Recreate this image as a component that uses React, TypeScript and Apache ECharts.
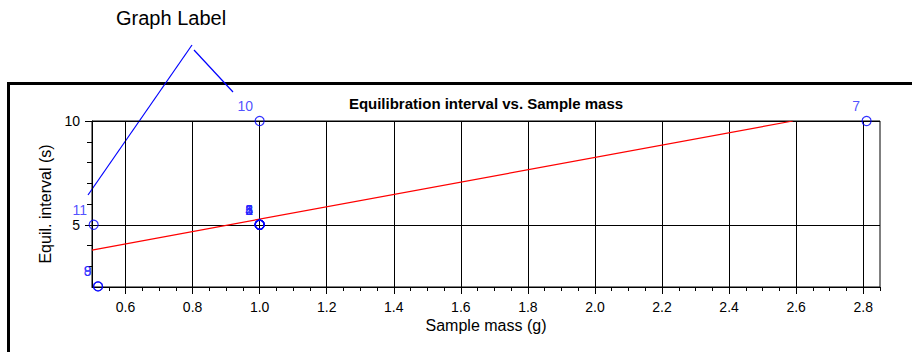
import React, { useEffect, useRef } from "react";
import * as echarts from "echarts";

const FONT = '"Liberation Sans", Arial, sans-serif';

// Sample points
const sampleIds = ["1", "2", "3", "4", "5", "6", "7", "8", "9", "10", "11"];
const sampleMass = [1.0, 1.0, 1.0, 1.0, 1.0, 1.0, 2.81, 0.518, 0.518, 1.0, 0.505];
const equilInterval = [5, 5, 5, 5, 5, 5, 10, 2.03, 2.03, 10, 5];

// Fit line
const fitMass = [0.5, 2.59];
const fitInterval = [3.78, 10];

// Axis ticks
const xMajorTicks = [0.6, 0.8, 1.0, 1.2, 1.4, 1.6, 1.8, 2.0, 2.2, 2.4, 2.6, 2.8];
const xMinorTicks = [
  0.55, 0.65, 0.7, 0.75, 0.85, 0.9, 0.95, 1.05, 1.1, 1.15, 1.25, 1.3, 1.35,
  1.45, 1.5, 1.55, 1.65, 1.7, 1.75, 1.85, 1.9, 1.95, 2.05, 2.1, 2.15, 2.25,
  2.3, 2.35, 2.45, 2.5, 2.55, 2.65, 2.7, 2.75, 2.85,
];
const yMajorTicks = [5, 10];
const yMinorTicks = [3, 4, 6, 7, 8, 9];

export default function App() {
  const ref = useRef<HTMLDivElement>(null);

  useEffect(() => {
    if (!ref.current) return;
    const chart = echarts.init(ref.current, undefined, { renderer: "svg" });

    const points = sampleIds.map((id, i) => ({
      value: [sampleMass[i], equilInterval[i]],
      name: id,
    }));

    const black = { color: "#000", width: 1 };

    chart.setOption({
      animation: false,
      backgroundColor: "#fff",
      title: {
        text: "Equilibration interval vs. Sample mass",
        left: 486,
        top: 96,
        textAlign: "center",
        padding: 0,
        textStyle: { fontFamily: FONT, fontSize: 15, fontWeight: "bold", color: "#000" },
      },
      grid: {
        left: 92,
        top: 121,
        right: 32,
        bottom: 65,
        show: true,
        borderColor: "#000",
        borderWidth: 1,
        backgroundColor: "transparent",
      },
      xAxis: [
        {
          type: "value",
          min: 0.5,
          max: 2.85,
          position: "bottom",
          name: "Sample mass (g)",
          nameLocation: "middle",
          nameGap: 30,
          nameTextStyle: { fontFamily: FONT, fontSize: 16, color: "#000" },
          axisLine: { show: true, lineStyle: black },
          axisTick: { show: true, length: 7, customValues: xMajorTicks, lineStyle: black },
          axisLabel: {
            customValues: xMajorTicks,
            formatter: (v: number) => v.toFixed(1),
            margin: 13,
            fontFamily: FONT,
            fontSize: 14,
            color: "#000",
          },
          splitLine: { show: true, lineStyle: black },
        },
        {
          type: "value",
          min: 0.5,
          max: 2.85,
          position: "bottom",
          axisLine: { show: false },
          axisTick: { show: true, length: 4, customValues: xMinorTicks, lineStyle: black },
          axisLabel: { show: false },
          splitLine: { show: false },
        },
      ],
      yAxis: [
        {
          type: "value",
          min: 2,
          max: 10,
          position: "left",
          name: "Equil. interval (s)",
          nameLocation: "middle",
          nameGap: 38,
          nameTextStyle: { fontFamily: FONT, fontSize: 16, color: "#000" },
          axisLine: { show: true, lineStyle: black },
          axisTick: { show: true, length: 7, customValues: yMajorTicks, lineStyle: black },
          axisLabel: {
            customValues: yMajorTicks,
            margin: 12,
            fontFamily: FONT,
            fontSize: 14,
            color: "#000",
          },
          splitLine: { show: true, lineStyle: black },
        },
        {
          type: "value",
          min: 2,
          max: 10,
          position: "left",
          axisLine: { show: false },
          axisTick: { show: true, length: 5, customValues: yMinorTicks, lineStyle: black },
          axisLabel: { show: false },
          splitLine: { show: false },
        },
      ],
      series: [
        {
          type: "line",
          xAxisIndex: 0,
          yAxisIndex: 0,
          data: fitMass.map((m, i) => [m, fitInterval[i]]),
          symbol: "none",
          lineStyle: { color: "#ff0000", width: 1.2 },
          silent: true,
          z: 2,
        },
        {
          type: "scatter",
          xAxisIndex: 0,
          yAxisIndex: 0,
          data: points,
          symbol: "circle",
          symbolSize: 9,
          itemStyle: { color: "rgba(0,0,0,0)", borderColor: "#0000ff", borderWidth: 1.2 },
          label: {
            show: true,
            formatter: (p: any) => p.name,
            position: [-1.5, -3],
            align: "right",
            verticalAlign: "bottom",
            fontFamily: FONT,
            fontSize: 14,
            color: "#2424ff",
          },
          clip: false,
          z: 3,
        },
      ],
      graphic: [
        {
          type: "rect",
          shape: { x: 8.5, y: 83.5, width: 1000, height: 400 },
          style: { fill: "none", stroke: "#000", lineWidth: 3 },
          silent: true,
          z: -1,
        },
        {
          type: "text",
          x: 116,
          y: 18,
          style: {
            text: "Graph Label",
            fontFamily: FONT,
            fontSize: 20,
            fill: "#000",
            align: "left",
            verticalAlign: "middle",
          },
        },
        {
          type: "line",
          shape: { x1: 192, y1: 45, x2: 88, y2: 195 },
          style: { stroke: "#0000ff", lineWidth: 1.2 },
        },
        {
          type: "line",
          shape: { x1: 194, y1: 50, x2: 233, y2: 92 },
          style: { stroke: "#0000ff", lineWidth: 1.2 },
        },
      ],
    });

    return () => chart.dispose();
  }, []);

  return (
    <div
      ref={ref}
      style={{ position: "fixed", left: 0, top: 0, width: 912, height: 352 }}
    />
  );
}
